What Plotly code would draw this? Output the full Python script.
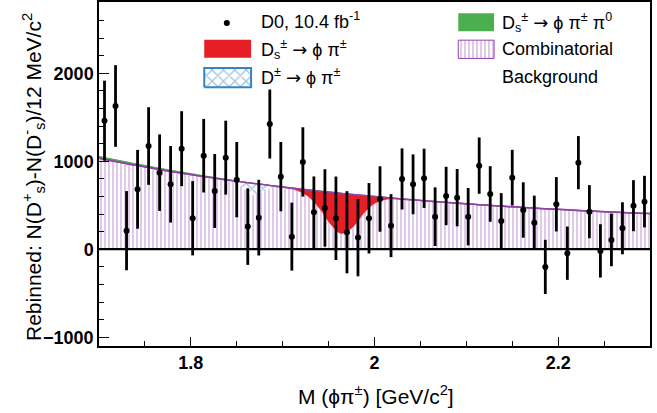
import numpy as np
import plotly.graph_objects as go

# ---------------- data ----------------
# bin centres (GeV/c^2), 12 MeV bins
mass = [1.706, 1.718, 1.730, 1.742, 1.754, 1.766, 1.778, 1.790, 1.802, 1.814,
        1.826, 1.838, 1.850, 1.862, 1.874, 1.886, 1.898, 1.910, 1.922, 1.934,
        1.946, 1.958, 1.970, 1.982, 1.994, 2.006, 2.018, 2.030, 2.042, 2.054,
        2.066, 2.078, 2.090, 2.102, 2.114, 2.126, 2.138, 2.150, 2.162, 2.174,
        2.186, 2.198, 2.210, 2.222, 2.234, 2.246, 2.258, 2.270, 2.282, 2.294]
counts = [1461, 1628, 211, 681, 1173, 870, 738, 1143, 352, 1063,
          662, 1041, 791, 257, 359, 1423, 825, 143, 992, 420,
          469, 352, 193, 132, 352, 571, 268, 799, 738, 806,
          370, 605, 586, 370, 950, 628, 321, 813, 446, 302,
          -201, 511, -45, 984, 427, -19, 106, 238, 495, 541]
errors = [455, 464, 450, 448, 441, 435, 435, 426, 422, 418,
          420, 420, 428, 435, 430, 392, 394, 386, 394, 407,
          440, 474, 467, 440, 400, 372, 358, 347, 340, 337,
          333, 332, 326, 326, 320, 316, 317, 317, 315, 307,
          308, 309, 303, 302, 302, 303, 299, 296, 290, 293]

# fit model curves, sampled every 12 MeV from 1.700 to 2.300
curve_x = [1.700, 1.712, 1.724, 1.736, 1.748, 1.760, 1.772, 1.784, 1.796, 1.808,
           1.820, 1.832, 1.844, 1.856, 1.868, 1.880, 1.892, 1.904, 1.916, 1.928,
           1.940, 1.952, 1.964, 1.976, 1.988, 2.000, 2.012, 2.024, 2.036, 2.048,
           2.060, 2.072, 2.084, 2.096, 2.108, 2.120, 2.132, 2.144, 2.156, 2.168,
           2.180, 2.192, 2.204, 2.216, 2.228, 2.240, 2.252, 2.264, 2.276, 2.288,
           2.300]
bkg = [1034, 1009, 985, 961, 939, 917, 895, 875, 855, 836,
       817, 799, 781, 764, 748, 732, 717, 702, 687, 673,
       660, 647, 634, 622, 610, 599, 587, 577, 566, 556,
       546, 537, 528, 519, 510, 502, 494, 486, 479, 471,
       464, 457, 451, 444, 438, 432, 426, 421, 415, 410,
       405]
ds_pipi0 = [22, 21, 20, 19, 18, 16, 15, 13, 12, 10,
            8, 6, 4, 2, 0, 0, 0, 0, 0, 0,
            0, 0, 0, 0, 0, 0, 0, 0, 0, 0,
            0, 0, 0, 0, 0, 0, 0, 0, 0, 0,
            0, 0, 0, 0, 0, 0, 0, 0, 0, 0,
            0]
dplus = [0, 0, 0, 0, 0, 0, 0, 0, 0, 0,
         0, 0, -8, -60, -130, -70, -10, 0, 0, 0,
         0, 0, 0, 0, 0, 0, 0, 0, 0, 0,
         0, 0, 0, 0, 0, 0, 0, 0, 0, 0,
         0, 0, 0, 0, 0, 0, 0, 0, 0, 0,
         0]
dsphipi = [0, 0, 0, 0, 0, 0, 0, 0, 0, 0,
           0, 0, 0, 0, 0, 0, 0, -4, -20, -75,
           -195, -360, -455, -375, -205, -80, -22, -4, 0, 0,
           0, 0, 0, 0, 0, 0, 0, 0, 0, 0,
           0, 0, 0, 0, 0, 0, 0, 0, 0, 0,
           0]

x_ticks = [1.8, 2.0, 2.2]
y_ticks = [-1000, 0, 1000, 2000]

# ---------------- style ----------------
PURPLE_LINE = "#9440ad"
PURPLE_HATCH = "#a865c0"
BLUE = "#3584c8"
RED = "#e61e25"
GREEN = "#4caf4f"
FONT = "Liberation Sans"
ARROW = '<span style="font-family:DejaVu Sans">→</span>'

bkg_a = np.array(bkg, dtype=float)
fig = go.Figure()

HATCH = dict(shape="|", fgcolor=PURPLE_HATCH, bgcolor="white", size=4, solidity=0.35)
XHATCH = dict(shape="x", fgcolor=BLUE, bgcolor="white", size=8, solidity=0.28)

# combinatorial background (vertical hatch)
fig.add_trace(go.Scatter(x=curve_x, y=bkg_a, mode="lines", line=dict(color=PURPLE_LINE, width=1.5, shape="spline"),
                         fill="tozeroy", fillcolor="rgba(0,0,0,0)", fillpattern=HATCH, hoverinfo="skip"))
# Ds -> phi pi pi0 (green) on top of background
fig.add_trace(go.Scatter(x=curve_x, y=bkg_a + np.array(ds_pipi0), mode="lines",
                         line=dict(color=GREEN, width=1, shape="spline"),
                         fill="tonexty", fillcolor=GREEN, hoverinfo="skip"))
# D+ -> phi pi (blue cross-hatch)
fig.add_trace(go.Scatter(x=curve_x, y=bkg_a, mode="lines", line=dict(width=0, shape="spline"), hoverinfo="skip"))
fig.add_trace(go.Scatter(x=curve_x, y=bkg_a + np.array(dplus), mode="lines",
                         line=dict(width=0, shape="spline"),
                         fill="tonexty", fillcolor="rgba(0,0,0,0)", fillpattern=XHATCH, hoverinfo="skip"))
# Ds -> phi pi (red)
fig.add_trace(go.Scatter(x=curve_x, y=bkg_a, mode="lines", line=dict(width=0, shape="spline"), hoverinfo="skip"))
fig.add_trace(go.Scatter(x=curve_x, y=bkg_a + np.array(dsphipi), mode="lines",
                         line=dict(width=0.5, color=RED, shape="spline"),
                         fill="tonexty", fillcolor=RED, hoverinfo="skip"))
# background line on top
fig.add_trace(go.Scatter(x=curve_x, y=bkg_a, mode="lines", line=dict(color=PURPLE_LINE, width=1.5, shape="spline"),
                         hoverinfo="skip"))

# data points
fig.add_trace(go.Scatter(x=mass, y=counts, mode="markers",
                         marker=dict(color="black", size=6),
                         error_y=dict(type="data", array=errors, color="black", thickness=2.8, width=0)))

# ---------------- legend (drawn on an overlay axis spanning the plot area) ----------------
def rect(x0, x1, y0, y1):
    return [x0, x1, x1, x0, x0], [y0, y0, y1, y1, y0]

leg = dict(xaxis="x2", yaxis="y2", showlegend=False, hoverinfo="skip")
xs, ys = rect(0.191, 0.276, 0.838, 0.890)
fig.add_trace(go.Scatter(x=xs, y=ys, mode="lines", fill="toself", fillcolor=RED, line=dict(width=0), **leg))
xs, ys = rect(0.191, 0.276, 0.752, 0.808)
fig.add_trace(go.Scatter(x=xs, y=ys, mode="lines", fill="toself", fillcolor="rgba(0,0,0,0)",
                         fillpattern=XHATCH, line=dict(width=2, color=BLUE), **leg))
xs, ys = rect(0.652, 0.717, 0.915, 0.967)
fig.add_trace(go.Scatter(x=xs, y=ys, mode="lines", fill="toself", fillcolor=GREEN, line=dict(width=0), **leg))
xs, ys = rect(0.652, 0.717, 0.836, 0.889)
fig.add_trace(go.Scatter(x=xs, y=ys, mode="lines", fill="toself", fillcolor="rgba(0,0,0,0)",
                         fillpattern=HATCH, line=dict(width=1, color=PURPLE_LINE), **leg))
fig.add_trace(go.Scatter(x=[0.232], y=[0.939], mode="markers", marker=dict(color="black", size=6), **leg))

leg_font = dict(family=FONT, size=18, color="black")
texts = [
    (0.290, 0.945, "D0, 10.4 fb<sup>-1</sup>"),
    (0.290, 0.862, "D<sub>s</sub><sup>±</sup> " + ARROW + " ϕ π<sup>±</sup>"),
    (0.290, 0.782, "D<sup>±</sup> " + ARROW + " ϕ π<sup>±</sup>"),
    (0.727, 0.940, "D<sub>s</sub><sup>±</sup> " + ARROW + " ϕ π<sup>±</sup> π<sup>0</sup>"),
    (0.727, 0.862, "Combinatorial"),
    (0.727, 0.782, "Background"),
]
for tx, ty, t in texts:
    fig.add_annotation(x=tx, y=ty, xref="x2", yref="y2", text=t, showarrow=False,
                       xanchor="left", yanchor="middle", font=leg_font)

# axis titles
fig.add_annotation(x=0.503, y=-0.142, xref="paper", yref="paper", showarrow=False,
                   text="M (ϕπ<sup>±</sup>) [GeV/c<sup>2</sup>]", xanchor="center", yanchor="middle",
                   font=dict(family=FONT, size=21, color="black"))
fig.add_annotation(x=-0.12, y=0.491, xref="paper", yref="paper", showarrow=False, textangle=-90,
                   text="Rebinned: N(D<sup>+</sup><sub>s</sub>)-N(D<sup>-</sup><sub>s</sub>)/12 MeV/c<sup>2</sup>",
                   xanchor="center", yanchor="middle", font=dict(family=FONT, size=21, color="black"))

# zero line
fig.add_shape(type="line", xref="x", yref="y", x0=1.7, x1=2.3, y0=0, y1=0,
              line=dict(color="black", width=2.2), layer="above")

fig.update_layout(
    width=657, height=413,
    margin=dict(l=99, r=7, t=2, b=67),
    paper_bgcolor="white", plot_bgcolor="white",
    showlegend=False,
    font=dict(family=FONT, color="black"),
    xaxis=dict(range=[1.7, 2.3], tickvals=x_ticks, ticktext=["1.8", "2", "2.2"], automargin=False,
               ticks="inside", ticklen=9, tickwidth=1, tickcolor="black",
               minor=dict(dtick=0.05, tick0=1.7, ticks="inside", ticklen=5, tickcolor="black", tickwidth=1),
               showline=True, linecolor="black", linewidth=1.5, mirror=True, showgrid=False, zeroline=False,
               tickfont=dict(family=FONT, size=18, weight="bold")),
    yaxis=dict(range=[-1100, 2810], tickvals=y_ticks, automargin=False,
               ticks="inside", ticklen=10, tickwidth=1, tickcolor="black",
               minor=dict(dtick=200, tick0=0, ticks="inside", ticklen=5, tickcolor="black", tickwidth=1),
               showline=True, linecolor="black", linewidth=1.5, mirror=True, showgrid=False, zeroline=False,
               tickfont=dict(family=FONT, size=18, weight="bold")),
    xaxis2=dict(overlaying="x", range=[0, 1], visible=False),
    yaxis2=dict(overlaying="y", range=[0, 1], visible=False),
)

fig.write_html("out.html", config={"displayModeBar": False},
               post_script="document.body.style.margin='0px';")
